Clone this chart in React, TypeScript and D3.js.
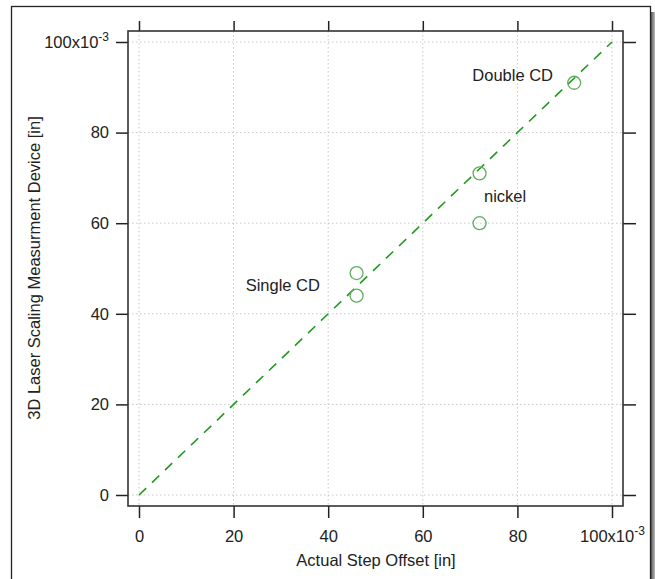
import React, { useRef, useEffect } from "react";
import * as d3 from "d3";

// values in units of 1e-3 in
const actualOffset = [46, 46, 72, 72, 92];
const laserMeasured = [49, 44, 71, 60, 91];
const tickValues = [0, 20, 40, 60, 80, 100];
const fitX = [0, 100];
const fitY = [0, 100];
const noteText = ["Double CD", "nickel", "Single CD"];
const noteX = [79, 77.4, 30.4];
const noteY = [91.4, 64.7, 45];

const App = () => {
  const ref = useRef<SVGSVGElement>(null);

  const width = 655;
  const height = 579;

  useEffect(() => {
    const svg = d3.select(ref.current);
    svg.selectAll("*").remove();

    const font = "Arial, 'Liberation Sans', sans-serif";
    const fs = 16.5;

    // outer frame + shadow
    const grad = svg.append("defs").append("linearGradient").attr("id", "shadow");
    grad.append("stop").attr("offset", "0%").attr("stop-color", "#555");
    grad.append("stop").attr("offset", "100%").attr("stop-color", "#bbb");
    svg.append("rect").attr("x", 651).attr("y", 12).attr("width", 4).attr("height", height)
      .attr("fill", "url(#shadow)");
    svg.append("rect").attr("x", 11.5).attr("y", 6.5).attr("width", 639).attr("height", height)
      .attr("fill", "white").attr("stroke", "#222").attr("stroke-width", 1.3);

    const box = { left: 128, right: 623, top: 31, bottom: 506 };

    const x = d3.scaleLinear().domain([0, 100]).range([139, 612]);
    const y = d3.scaleLinear().domain([0, 100]).range([495, 42]);

    const fmt = (d) => (d === 100 ? "100x10" : String(d));

    // grid
    const grid = svg.append("g").attr("stroke", "#c8c8c8").attr("stroke-dasharray", "1.5,2.5").attr("stroke-width", 1);
    tickValues.forEach((t) => {
      grid.append("line").attr("x1", x(t)).attr("x2", x(t)).attr("y1", box.top).attr("y2", box.bottom);
      grid.append("line").attr("y1", y(t)).attr("y2", y(t)).attr("x1", box.left).attr("x2", box.right);
    });

    const addSup = (sel) => {
      sel.selectAll(".tick text").each(function (d) {
        if (d === 100) {
          d3.select(this).append("tspan").attr("dy", "-0.55em").attr("font-size", 12).text("-3");
        }
      });
    };

    const styleAxis = (g) => {
      g.select(".domain").remove();
      g.selectAll(".tick line").attr("stroke", "#222").attr("stroke-width", 1.5);
      g.selectAll(".tick text").attr("fill", "#222").attr("font-family", font).attr("font-size", fs);
    };

    const bottom = svg.append("g").attr("transform", `translate(0,${box.bottom})`)
      .call(d3.axisBottom(x).tickValues(tickValues).tickFormat(fmt).tickSize(12));
    styleAxis(bottom);
    bottom.selectAll(".tick text").attr("dy", null).attr("y", 36);
    addSup(bottom);

    const top = svg.append("g").attr("transform", `translate(0,${box.top})`)
      .call(d3.axisTop(x).tickValues(tickValues).tickFormat(() => "").tickSize(10));
    styleAxis(top);

    const left = svg.append("g").attr("transform", `translate(${box.left},0)`)
      .call(d3.axisLeft(y).tickValues(tickValues).tickFormat(fmt).tickSize(12).tickPadding(7));
    styleAxis(left);
    addSup(left);

    const right = svg.append("g").attr("transform", `translate(${box.right},0)`)
      .call(d3.axisRight(y).tickValues(tickValues).tickFormat(() => "").tickSize(13));
    styleAxis(right);

    // plot box
    svg.append("rect").attr("x", box.left).attr("y", box.top)
      .attr("width", box.right - box.left).attr("height", box.bottom - box.top)
      .attr("fill", "none").attr("stroke", "#333").attr("stroke-width", 1.6);

    // fit line
    const lineGen = d3.line<number>().x((d, i) => x(fitX[i])).y((d, i) => y(fitY[i]));
    svg.append("path").attr("d", lineGen(fitX)).attr("fill", "none")
      .attr("stroke", "#1f9a1f").attr("stroke-width", 1.6).attr("stroke-dasharray", "10,8");

    // points
    svg.append("g").selectAll("circle").data(actualOffset).enter().append("circle")
      .attr("cx", (d) => x(d)).attr("cy", (d, i) => y(laserMeasured[i])).attr("r", 6.5)
      .attr("fill", "none").attr("stroke", "#5fae5f").attr("stroke-width", 1.3);

    // notes
    svg.append("g").selectAll("text").data(noteText).enter().append("text")
      .attr("x", (d, i) => x(noteX[i])).attr("y", (d, i) => y(noteY[i]))
      .attr("text-anchor", "middle").attr("font-family", font).attr("font-size", fs).attr("fill", "#222")
      .text((d) => d);

    // axis titles
    svg.append("text").attr("x", 376).attr("y", 566).attr("text-anchor", "middle")
      .attr("font-family", font).attr("font-size", fs).attr("fill", "#222").text("Actual Step Offset [in]");
    svg.append("text").attr("transform", `translate(40,268) rotate(-90)`).attr("text-anchor", "middle")
      .attr("font-family", font).attr("font-size", fs).attr("fill", "#222")
      .text("3D Laser Scaling Measurment Device [in]");
  }, []);

  return (
    <svg ref={ref} width={width} height={height}
      style={{ position: "absolute", left: 0, top: 0, background: "white" }} />
  );
};

export default App;
